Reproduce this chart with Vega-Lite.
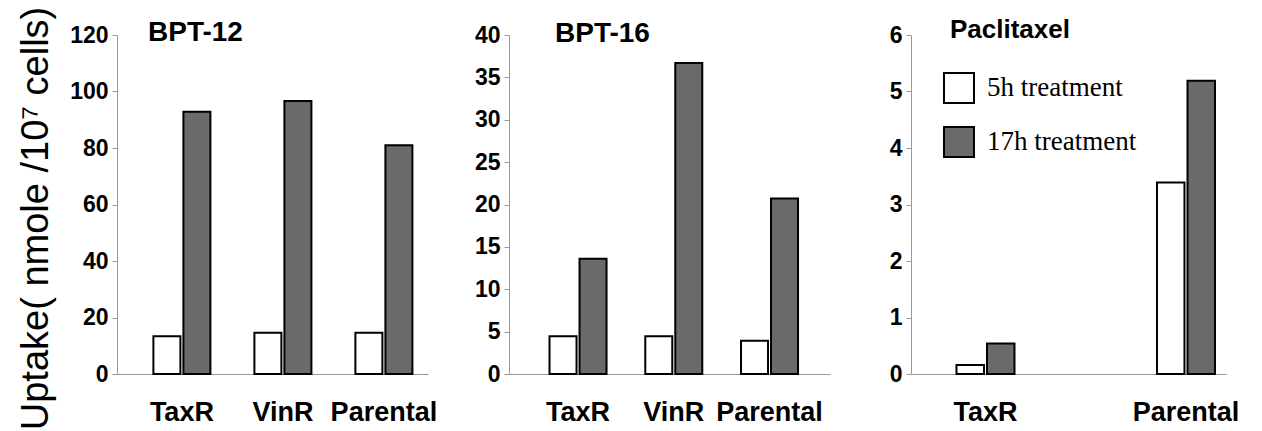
{
  "$schema": "https://vega.github.io/schema/vega-lite/v6.json",
  "background": "white",
  "padding": {"left": 17, "top": 6, "right": 0, "bottom": 0},
  "data": {"values": [
    {"drug": "BPT-12", "line": "TaxR", "treatment": "5h treatment", "uptake": 13.4},
    {"drug": "BPT-12", "line": "TaxR", "treatment": "17h treatment", "uptake": 92.8},
    {"drug": "BPT-12", "line": "VinR", "treatment": "5h treatment", "uptake": 14.6},
    {"drug": "BPT-12", "line": "VinR", "treatment": "17h treatment", "uptake": 96.6},
    {"drug": "BPT-12", "line": "Parental", "treatment": "5h treatment", "uptake": 14.6},
    {"drug": "BPT-12", "line": "Parental", "treatment": "17h treatment", "uptake": 81.0},
    {"drug": "BPT-16", "line": "TaxR", "treatment": "5h treatment", "uptake": 4.44},
    {"drug": "BPT-16", "line": "TaxR", "treatment": "17h treatment", "uptake": 13.6},
    {"drug": "BPT-16", "line": "VinR", "treatment": "5h treatment", "uptake": 4.44},
    {"drug": "BPT-16", "line": "VinR", "treatment": "17h treatment", "uptake": 36.7},
    {"drug": "BPT-16", "line": "Parental", "treatment": "5h treatment", "uptake": 3.93},
    {"drug": "BPT-16", "line": "Parental", "treatment": "17h treatment", "uptake": 20.7},
    {"drug": "Paclitaxel", "line": "TaxR", "treatment": "5h treatment", "uptake": 0.16},
    {"drug": "Paclitaxel", "line": "TaxR", "treatment": "17h treatment", "uptake": 0.54},
    {"drug": "Paclitaxel", "line": "Parental", "treatment": "5h treatment", "uptake": 3.39},
    {"drug": "Paclitaxel", "line": "Parental", "treatment": "17h treatment", "uptake": 5.19}
  ]},
  "config": {
    "view": {"stroke": null},
    "font": "Liberation Sans",
    "axis": {"grid": false, "domainColor": "#999999", "domainWidth": 1, "tickColor": "#999999", "labelColor": "black", "labelFont": "Liberation Sans", "labelFontWeight": "bold", "titleColor": "black"},
    "axisX": {"ticks": false, "labelFontSize": 27, "labelPadding": 25, "labelAngle": 0},
    "axisY": {"tickSize": 5, "labelFontSize": 23, "labelPadding": 4},
    "title": {"font": "Liberation Sans", "fontWeight": "bold", "color": "black", "anchor": "start", "baseline": "alphabetic", "offset": 0, "frame": "group"}
  },
  "bounds": "flush",
  "spacing": 81,
  "resolve": {"scale": {"x": "independent", "y": "independent", "fill": "independent", "xOffset": "independent"}, "legend": {"fill": "independent"}},
  "hconcat": [
    {
      "transform": [{"filter": "datum.drug == 'BPT-12'"}],
      "width": 311,
      "height": 339,
      "title": {"text": "BPT-12", "fontSize": 28, "dx": 31, "dy": 45},
      "mark": {"type": "bar", "stroke": "black", "strokeWidth": 2},
      "encoding": {
        "x": {"field": "line", "type": "nominal", "sort": ["TaxR", "VinR", "Parental"], "scale": {"paddingInner": 0.4356, "paddingOuter": 0.2574, "align": 0.7}, "axis": {"title": null}},
        "xOffset": {"field": "treatment", "type": "nominal", "sort": ["5h treatment", "17h treatment"], "scale": {"paddingInner": 0.1, "paddingOuter": 0}},
        "y": {"field": "uptake", "type": "quantitative", "scale": {"domain": [0, 120]}, "axis": {"values": [0, 20, 40, 60, 80, 100, 120], "title": "Uptake( nmole /10⁷ cells)", "titleFont": "Liberation Sans", "titleFontWeight": "normal", "titleFontSize": 38, "titlePadding": 14, "titleY": 183}},
        "fill": {"field": "treatment", "type": "nominal", "scale": {"domain": ["5h treatment", "17h treatment"], "range": ["white", "#6a6a6a"]}, "legend": null}
      }
    },
    {
      "transform": [{"filter": "datum.drug == 'BPT-16'"}],
      "width": 321,
      "height": 339,
      "title": {"text": "BPT-16", "fontSize": 28, "dx": 46, "dy": 28},
      "mark": {"type": "bar", "stroke": "black", "strokeWidth": 2},
      "encoding": {
        "x": {"field": "line", "type": "nominal", "sort": ["TaxR", "VinR", "Parental"], "scale": {"paddingInner": 0.4047, "paddingOuter": 0.3786, "align": 0.559}, "axis": {"title": null}},
        "xOffset": {"field": "treatment", "type": "nominal", "sort": ["5h treatment", "17h treatment"], "scale": {"paddingInner": 0.1, "paddingOuter": 0}},
        "y": {"field": "uptake", "type": "quantitative", "scale": {"domain": [0, 40]}, "axis": {"values": [0, 5, 10, 15, 20, 25, 30, 35, 40], "title": null}},
        "fill": {"field": "treatment", "type": "nominal", "scale": {"domain": ["5h treatment", "17h treatment"], "range": ["white", "#6a6a6a"]}, "legend": null}
      }
    },
    {
      "transform": [{"filter": "datum.drug == 'Paclitaxel'"}],
      "width": 315,
      "height": 339,
      "title": {"text": "Paclitaxel", "fontSize": 26, "dx": 39, "dy": 23},
      "mark": {"type": "bar", "stroke": "black", "strokeWidth": 2},
      "encoding": {
        "x": {"field": "line", "type": "nominal", "sort": ["TaxR", "Parental"], "scale": {"paddingInner": 0.7107, "paddingOuter": 0.1409, "align": 0.805}, "axis": {"title": null}},
        "xOffset": {"field": "treatment", "type": "nominal", "sort": ["5h treatment", "17h treatment"], "scale": {"paddingInner": 0.1, "paddingOuter": 0}},
        "y": {"field": "uptake", "type": "quantitative", "scale": {"domain": [0, 6]}, "axis": {"values": [0, 1, 2, 3, 4, 5, 6], "title": null}},
        "fill": {"field": "treatment", "type": "nominal", "scale": {"domain": ["5h treatment", "17h treatment"], "range": ["white", "#6a6a6a"]}, "legend": {"orient": "none", "legendX": 32, "legendY": 37, "title": null, "symbolType": "square", "symbolSize": 900, "symbolStrokeColor": "black", "symbolStrokeWidth": 2, "labelFont": "Liberation Serif", "labelFontSize": 27, "labelFontWeight": "normal", "labelColor": "black", "labelOffset": 12, "rowPadding": 16, "labelLimit": 0}}
      }
    }
  ]
}
